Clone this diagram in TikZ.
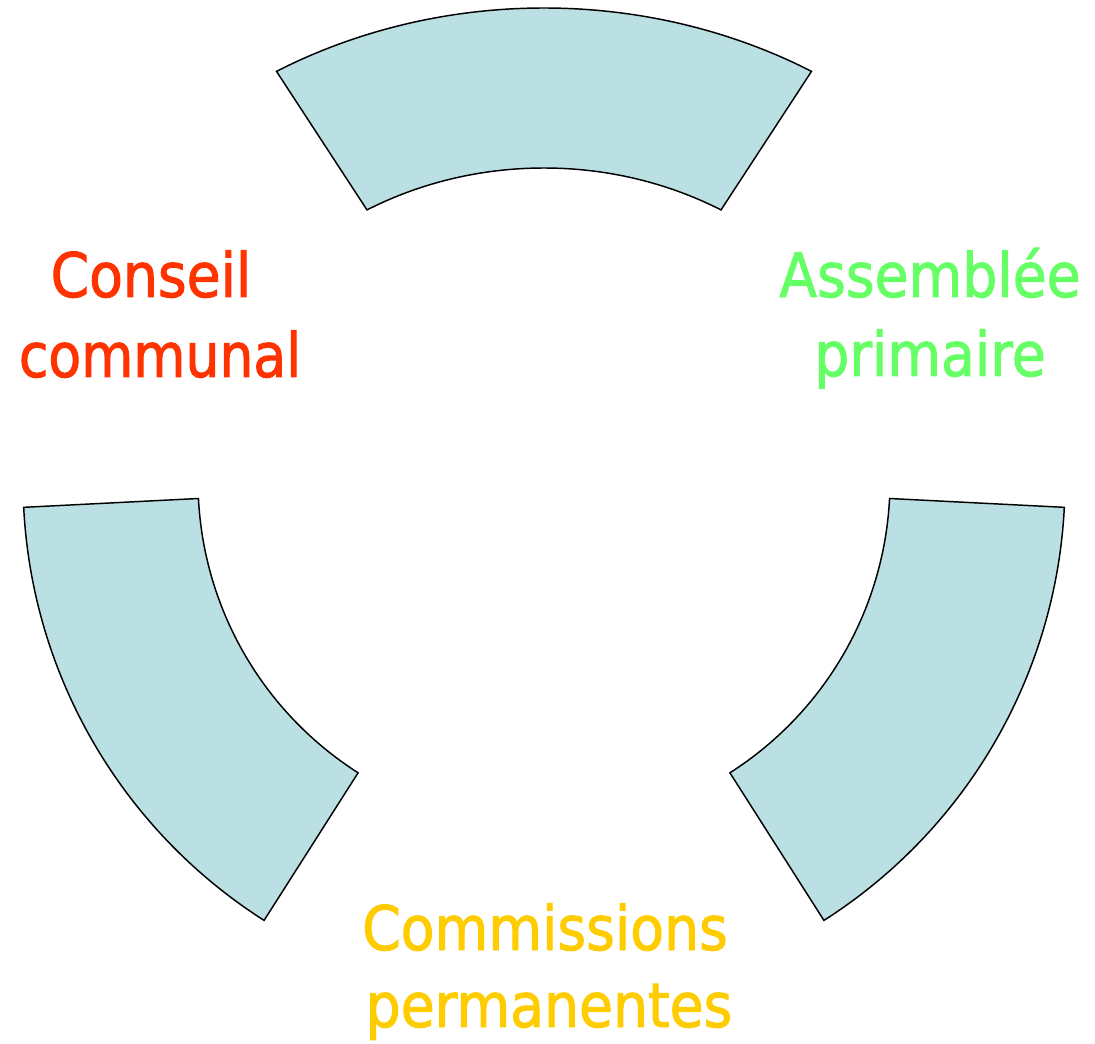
\documentclass[tikz,border=0pt]{standalone}
\usepackage{fontspec}
\newfontfamily\labfont[FakeStretch=0.9,FakeBold=1.6]{DejaVu Sans}
\definecolor{arcfill}{HTML}{BBE0E3}
\definecolor{redtxt}{HTML}{FF3300}
\definecolor{greentxt}{HTML}{66FF66}
\definecolor{yellowtxt}{HTML}{FFCC00}
\begin{document}
\begin{tikzpicture}[x=0.75pt,y=0.75pt,
  seg/.style={fill=arcfill, draw=black, line width=1.1pt, line join=miter},
  lbl/.style={font=\labfont\fontsize{46}{56}\selectfont, anchor=base, inner sep=0pt}]
\useasboundingbox (0,0) rectangle (1095,1043);
\coordinate (C) at (544,562);
\begin{scope}[shift={(C)}]
  % top block arc (elliptical)
  \draw[seg] (120:535 and 473) arc[start angle=120, end angle=60, x radius=535, y radius=473]
    -- (60:354 and 313) arc[start angle=60, end angle=120, x radius=354, y radius=313] -- cycle;
  % right block arc
  \draw[seg] (-2.9:521) arc[start angle=-2.9, end angle=-57.5, radius=521]
    -- (-57.5:346) arc[start angle=-57.5, end angle=-2.9, radius=346] -- cycle;
  % left block arc
  \draw[seg] (182.9:521) arc[start angle=182.9, end angle=237.5, radius=521]
    -- (237.5:346) arc[start angle=237.5, end angle=182.9, radius=346] -- cycle;
\end{scope}
\node[lbl, text=redtxt] (cc1) at (151,746) {Conseil};
\node[lbl, text=redtxt, xscale=0.97] (cc2) at (160,666) {communal};
\node[lbl, text=greentxt] (ap1) at (930,746) {Assemblée};
\node[lbl, text=greentxt] (ap2) at (930,667) {primaire};
\node[lbl, text=yellowtxt] (cp1) at (545,93) {Commissions};
\node[lbl, text=yellowtxt] (cp2) at (549,16) {permanentes};
\end{tikzpicture}
\end{document}
